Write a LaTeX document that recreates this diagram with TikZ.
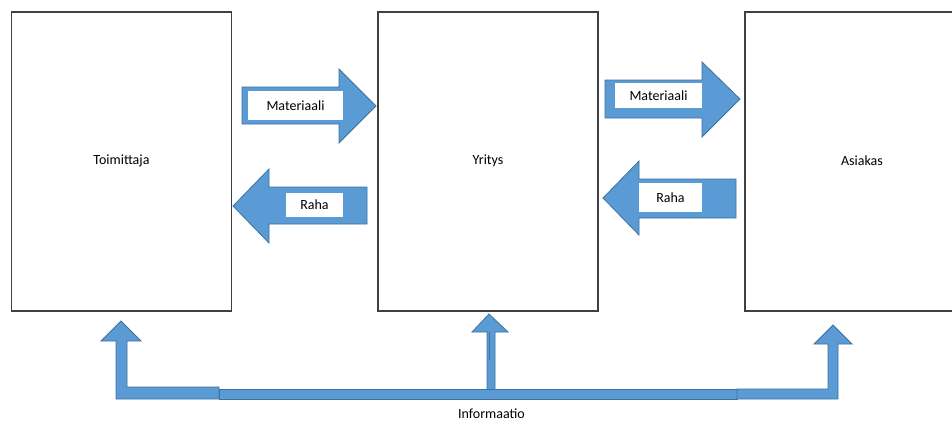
\documentclass[tikz,border=0pt]{standalone}
\usepackage{fontspec}
\setmainfont{Carlito}
\definecolor{arrowfill}{HTML}{5B9BD5}
\definecolor{arrowline}{HTML}{41719C}
\definecolor{boxline}{HTML}{404040}
\begin{document}
\begin{tikzpicture}[x=1pt,y=-1pt,
  box/.style={draw=boxline,line width=1.3pt,fill=white,inner sep=0pt},
  blockarrow/.style={fill=arrowfill,draw=arrowline,line width=0.8pt,line join=miter},
  lbl/.style={fill=white,inner sep=0pt,text=black,font=\fontsize{14}{16}\selectfont},
  txt/.style={font=\fontsize{14}{16}\selectfont,text=black}]
\useasboundingbox (0,0) rectangle (952,423);
\clip (0,0) rectangle (952,423);
\fill[white] (0,0) rectangle (952,423);
% boxes
\node[box,minimum width=220pt,minimum height=299pt] (toim) at (121.5,161.5) {};
\node[box,minimum width=220pt,minimum height=299pt] (yri) at (488,161.5) {};
\node[box,minimum width=220pt,minimum height=299pt] (asi) at (855,161.5) {};
\node[txt] (toimt) at (121.5,161) {Toimittaja};
\node[txt] (yrit) at (488,161) {Yritys};
\node[txt] (asit) at (862,161) {Asiakas};
% left pair
\draw[blockarrow] (242,87) -- (339,87) -- (339,69) -- (376,106) -- (339,143) -- (339,124) -- (242,124) -- cycle;
\node[lbl,minimum width=95pt,minimum height=29pt] (mat1) at (295.5,105.5) {Materiaali};
\draw[blockarrow] (233,206) -- (269,169) -- (269,187) -- (367,187) -- (367,224) -- (269,224) -- (269,243) -- cycle;
\node[lbl,minimum width=57pt,minimum height=24pt] (raha1) at (314.5,205) {Raha};
% right pair
\draw[blockarrow] (605,80) -- (702,80) -- (702,62) -- (740,99) -- (702,137) -- (702,118) -- (605,118) -- cycle;
\node[lbl,minimum width=87pt,minimum height=25pt] (mat2) at (658.5,95.5) {Materiaali};
\draw[blockarrow] (603,198) -- (639,161) -- (639,179) -- (736,179) -- (736,218) -- (639,218) -- (639,235) -- cycle;
\node[lbl,minimum width=63pt,minimum height=29pt] (raha2) at (670.5,197.5) {Raha};
% information flow
\draw[blockarrow] (219,389) rectangle (737,399);
\draw[blockarrow] (121,321) -- (141,341) -- (127,341) -- (127,387) -- (219,387) -- (219,399) -- (116,399) -- (116,341) -- (101,341) -- cycle;
\draw[blockarrow] (833,325) -- (852,344) -- (838,344) -- (838,399) -- (737,399) -- (737,389) -- (828,389) -- (828,344) -- (814,344) -- cycle;
\draw[blockarrow] (489,314) -- (508,332) -- (495,332) -- (495,389.5) -- (487,389.5) -- (487,332) -- (472,332) -- cycle;
\draw[arrowline,line width=0.6pt] (489.5,332) -- (489.5,360);
\node[txt] (info) at (491.5,414) {Informaatio};
\end{tikzpicture}
\end{document}
